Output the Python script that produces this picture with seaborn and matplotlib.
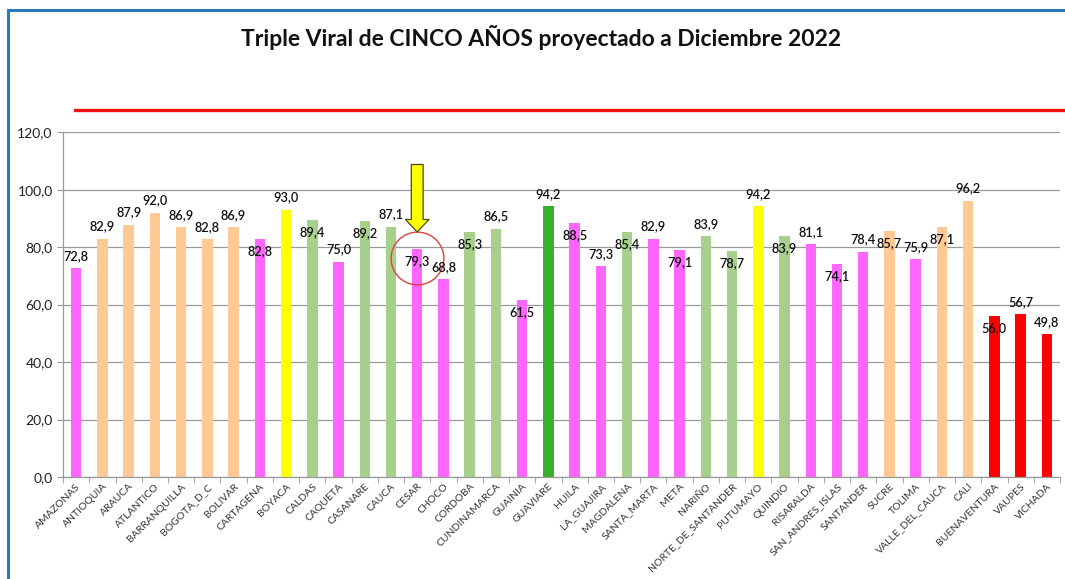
import numpy as np
import pandas as pd
import matplotlib
matplotlib.use("Agg")
import matplotlib.pyplot as plt
import seaborn as sns
from matplotlib.lines import Line2D

# departamentos / distritos y cobertura (%) triple viral 5 años
territorios = ["AMAZONAS", "ANTIOQUIA", "ARAUCA", "ATLANTICO", "BARRANQUILLA",
               "BOGOTA_D_C", "BOLIVAR", "CARTAGENA", "BOYACA", "CALDAS", "CAQUETA",
               "CASANARE", "CAUCA", "CESAR", "CHOCO", "CORDOBA", "CUNDINAMARCA",
               "GUAINIA", "GUAVIARE", "HUILA", "LA_GUAJIRA", "MAGDALENA",
               "SANTA_MARTA", "META", "NARIÑO", "NORTE_DE_SANTANDER", "PUTUMAYO",
               "QUINDIO", "RISARALDA", "SAN_ANDRES_ISLAS", "SANTANDER", "SUCRE",
               "TOLIMA", "VALLE_DEL_CAUCA", "CALI", "BUENAVENTURA", "VAUPES", "VICHADA"]
cobertura = [72.8, 82.9, 87.9, 92.0, 86.9, 82.8, 86.9, 82.8, 93.0, 89.4, 75.0,
             89.2, 87.1, 79.3, 68.8, 85.3, 86.5, 61.5, 94.2, 88.5, 73.3, 85.4,
             82.9, 79.1, 83.9, 78.7, 94.2, 83.9, 81.1, 74.1, 78.4, 85.7, 75.9,
             87.1, 96.2, 56.0, 56.7, 49.8]
# grupo de color de cada barra
grupo = ["M", "P", "P", "P", "P", "P", "P", "M", "Y", "L", "M", "L", "L", "M",
         "M", "L", "L", "M", "G", "M", "M", "L", "M", "M", "L", "L", "Y", "L",
         "M", "M", "M", "P", "M", "P", "P", "R", "R", "R"]
# etiqueta encima (a) o dentro (b) de la barra
lado = ["a", "a", "a", "a", "a", "a", "a", "b", "a", "b", "a", "b", "a", "b",
        "a", "b", "a", "b", "a", "b", "a", "b", "a", "b", "a", "b", "a", "b",
        "a", "b", "a", "b", "a", "b", "a", "b", "a", "a"]
destacado = "CESAR"

colores = {"M": "#FF66FF", "P": "#FFC996", "Y": "#FFFF00", "L": "#A8D08D",
           "G": "#3AB02C", "R": "#FF0000"}

df = pd.DataFrame({"territorio": territorios, "cobertura": cobertura, "grupo": grupo})

plt.rcParams["font.family"] = ["Lato", "DejaVu Sans"]
fig = plt.figure(figsize=(10.65, 5.79), dpi=100)
ax = fig.add_axes([0.0592, 0.1762, 0.9361, 0.5953])

sns.barplot(data=df, x="territorio", y="cobertura", hue="territorio",
            palette=[colores[g] for g in grupo], width=0.4, legend=False,
            saturation=1, ax=ax)

ax.set_xlim(-0.5, len(territorios) - 0.5)
ax.set_ylim(0, 120)
ax.set_yticks(np.arange(0, 121, 20))
ax.set_yticklabels([f"{v:.1f}".replace(".", ",") for v in np.arange(0, 121, 20)],
                   fontsize=10, color="#222222")
ax.grid(axis="y", color="#9a9a9a", linewidth=0.9)
ax.set_axisbelow(True)
for s in ["top", "right"]:
    ax.spines[s].set_visible(False)
for s in ["left", "bottom"]:
    ax.spines[s].set_color("#9a9a9a")
    ax.spines[s].set_linewidth(0.9)
ax.tick_params(axis="y", length=4, color="#9a9a9a")
ax.set_xticks(range(len(territorios)))
ax.set_xticklabels(territorios, rotation=45, ha="right", rotation_mode="anchor",
                   fontsize=7.5, color="#333333")
ax.tick_params(axis="x", length=0, pad=3.5)
ax.set_xticks(np.arange(-0.5, len(territorios)), minor=True)
ax.tick_params(axis="x", which="minor", length=4, color="#9a9a9a")
ax.set_xlabel("")
ax.set_ylabel("")

# etiquetas de datos
for i, (v, l) in enumerate(zip(cobertura, lado)):
    txt = f"{v:.1f}".replace(".", ",")
    if l == "a":
        ax.annotate(txt, (i, v), xytext=(0, 4.5), textcoords="offset points",
                    ha="center", va="bottom", fontsize=9.2, fontweight="semibold",
                    color="#111111")
    else:
        ax.annotate(txt, (i, v), xytext=(0, -4.5), textcoords="offset points",
                    ha="center", va="top", fontsize=9.2, fontweight="semibold",
                    color="#111111")

# flecha y círculo sobre el territorio destacado
k = territorios.index(destacado)
vk = cobertura[k]
ax.plot([k], [vk - 3], marker="o", markersize=38, markerfacecolor="none",
        markeredgecolor="#E0403C", markeredgewidth=1.0, clip_on=False)
ax.annotate("", xy=(k, vk + 6), xytext=(k, vk + 29.5),
            arrowprops=dict(arrowstyle="simple,head_length=9,head_width=17,tail_width=8.5",
                            mutation_scale=1, facecolor="#FFFF00", edgecolor="#4a4a10",
                            linewidth=0.9, shrinkA=0, shrinkB=0))

# línea roja de referencia sobre el gráfico
ax.axhline(127.6, xmin=0.012, xmax=1.01, color="#FF1010", linewidth=2.4, clip_on=False)

fig.suptitle("Triple Viral de CINCO AÑOS proyectado a Diciembre 2022",
             x=0.508, y=0.957, fontsize=16.5, fontweight="bold", color="#111111")

# marco azul
fig.add_artist(Line2D([8 / 1065, 8 / 1065], [0, 1 - 10 / 579], color="#2A78BE",
                      linewidth=2.2, transform=fig.transFigure))
fig.add_artist(Line2D([8 / 1065, 1], [1 - 10 / 579, 1 - 10 / 579], color="#2A78BE",
                      linewidth=2.2, transform=fig.transFigure))

fig.savefig("out.png", dpi=100, facecolor="white")
